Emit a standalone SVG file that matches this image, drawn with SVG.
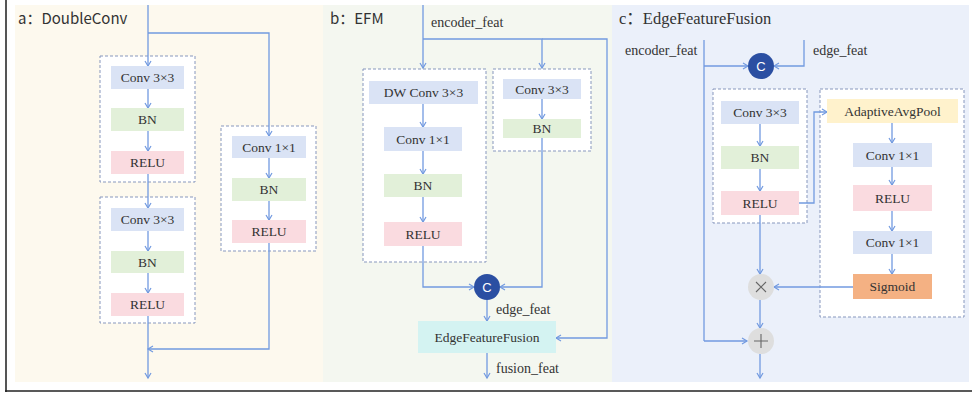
<svg xmlns="http://www.w3.org/2000/svg" width="972" height="396" viewBox="0 0 972 396">
<style>
.lbl{font-family:"Liberation Serif","Times New Roman",serif;font-size:13.5px;fill:#333;text-anchor:middle;dominant-baseline:central}
.tx{font-family:"Liberation Serif","Times New Roman",serif;font-size:14px;fill:#333}
.ttl{font-family:"Noto Sans CJK SC","Noto Sans",sans-serif;font-size:15px;fill:#333}
.ttlc{font-family:"Liberation Serif","Noto Sans CJK SC",serif;font-size:16.5px;fill:#333}
.dash{fill:#fff;stroke:#8797bd;stroke-width:1;stroke-dasharray:3 2}
.conv{fill:#dae3f5}
.bn{fill:#e2f0d9}
.relu{fill:#fadbe0}
.pool{fill:#fff2cc}
.sig{fill:#f4b183}
.eff{fill:#d4f3f2}
.cat{fill:#2b4fa2}
.op{fill:#dedede}
.c{font-family:"Liberation Sans",Arial,sans-serif;font-size:13px;fill:#fff;text-anchor:middle;dominant-baseline:central}
.w{fill:none;stroke:#729ae0;stroke-width:1.3;marker-end:url(#ah)}
.wn{fill:none;stroke:#729ae0;stroke-width:1.3}
.sym{stroke:#666;stroke-width:1.1;fill:none}
</style>
<defs>
<marker id="ah" markerUnits="userSpaceOnUse" markerWidth="8" markerHeight="8" refX="6" refY="4" orient="auto">
<path d="M1,1 L6,4 L1,7" fill="none" stroke="#729ae0" stroke-width="1.2"/>
</marker>
</defs>
<rect width="972" height="396" fill="#fff"/>
<!-- panels -->
<rect x="15" y="5" width="308" height="377" fill="#fdf9ee"/>
<rect x="323" y="5" width="289" height="377" fill="#f4f7f0"/>
<rect x="612" y="5" width="357" height="377" fill="#ebf0fa"/>
<line x1="6" y1="0" x2="6" y2="392" stroke="#555" stroke-width="2"/>
<line x1="5" y1="391" x2="972" y2="391" stroke="#222" stroke-width="1.5"/>
<text class="ttl" x="18" y="24">a：DoubleConv</text>
<text class="ttl" x="330" y="24">b：EFM</text>
<text class="ttlc" x="619" y="24">c：EdgeFeatureFusion</text>
<!-- dashed containers -->
<rect class="dash" x="100" y="56" width="95" height="126"/>
<rect class="dash" x="100" y="197" width="95" height="126"/>
<rect class="dash" x="221" y="126" width="95" height="125"/>
<rect class="dash" x="363" y="69" width="123" height="193"/>
<rect class="dash" x="493" y="69" width="98" height="82"/>
<rect class="dash" x="713" y="89" width="94" height="134"/>
<rect class="dash" x="820" y="89" width="144" height="228"/>
<!-- connectors -->
<g id="connectors">
<path class="w" d="M148,5 V66"/>
<path class="w" d="M148,33 H269 V136"/>
<path class="w" d="M148,89 V108"/>
<path class="w" d="M148,131 V151"/>
<path class="w" d="M148,174 V208"/>
<path class="w" d="M148,231 V251"/>
<path class="w" d="M148,273 V293"/>
<path class="w" d="M148,316 V378"/>
<path class="w" d="M269,158 V178"/>
<path class="w" d="M269,201 V220"/>
<path class="w" d="M269,243 V349 H148"/>
<path class="w" d="M423,5 V68"/>
<path class="w" d="M423,39 H542 V68"/>
<path class="w" d="M542,39 H607 V338 H556"/>
<path class="w" d="M423,104 V127"/>
<path class="w" d="M423,151 V174"/>
<path class="w" d="M423,197 V222"/>
<path class="w" d="M423,246 V287 H474"/>
<path class="w" d="M542,99 V119"/>
<path class="w" d="M542,138 V287 H500"/>
<path class="w" d="M487,300 V321"/>
<path class="w" d="M487,353 V378"/>
<path class="wn" d="M704,40 V341"/>
<path class="w" d="M704,66 H748"/>
<path class="w" d="M804,40 V66 H774"/>
<path class="w" d="M760,124 V146"/>
<path class="w" d="M760,169 V191"/>
<path class="w" d="M799,203 H814 V112 H827"/>
<path class="w" d="M892,123 V143"/>
<path class="w" d="M892,167 V185"/>
<path class="w" d="M892,211 V231"/>
<path class="w" d="M892,254 V274"/>
<path class="w" d="M760,215 V274"/>
<path class="w" d="M853,287 H774"/>
<path class="w" d="M760,300 V328"/>
<path class="w" d="M704,341 H747"/>
<path class="w" d="M760,354 V378"/>
</g>
<text class="tx" x="431" y="27">encoder_feat</text>
<text class="tx" x="496" y="314">edge_feat</text>
<text class="tx" x="496" y="373">fusion_feat</text>
<text class="tx" x="625" y="55">encoder_feat</text>
<text class="tx" x="813" y="55">edge_feat</text>
<!-- panel a nodes -->
<g id="a-conv1"><rect class="conv" x="111" y="66" width="73" height="23"/><text class="lbl" x="147.5" y="77.5">Conv 3×3</text></g>
<g id="a-bn1"><rect class="bn" x="111" y="108" width="73" height="23"/><text class="lbl" x="147.5" y="119.5">BN</text></g>
<g id="a-relu1"><rect class="relu" x="111" y="151" width="73" height="23"/><text class="lbl" x="147.5" y="162.5">RELU</text></g>
<g id="a-conv2"><rect class="conv" x="111" y="208" width="73" height="23"/><text class="lbl" x="147.5" y="219.5">Conv 3×3</text></g>
<g id="a-bn2"><rect class="bn" x="111" y="251" width="73" height="22"/><text class="lbl" x="147.5" y="262">BN</text></g>
<g id="a-relu2"><rect class="relu" x="111" y="293" width="73" height="23"/><text class="lbl" x="147.5" y="304.5">RELU</text></g>
<g id="a-conv3"><rect class="conv" x="232" y="136" width="74" height="22"/><text class="lbl" x="269" y="147">Conv 1×1</text></g>
<g id="a-bn3"><rect class="bn" x="232" y="178" width="74" height="23"/><text class="lbl" x="269" y="189.5">BN</text></g>
<g id="a-relu3"><rect class="relu" x="232" y="220" width="74" height="23"/><text class="lbl" x="269" y="231.5">RELU</text></g>
<!-- panel b nodes -->
<g id="b-dwconv"><rect class="conv" x="369" y="81" width="109" height="23"/><text class="lbl" x="423.5" y="92.5">DW Conv 3×3</text></g>
<g id="b-conv1"><rect class="conv" x="384" y="127" width="78" height="24"/><text class="lbl" x="423" y="139">Conv 1×1</text></g>
<g id="b-bn1"><rect class="bn" x="384" y="174" width="78" height="23"/><text class="lbl" x="423" y="185.5">BN</text></g>
<g id="b-relu"><rect class="relu" x="384" y="222" width="78" height="24"/><text class="lbl" x="423" y="234">RELU</text></g>
<g id="b-conv3"><rect class="conv" x="503" y="79" width="78" height="20"/><text class="lbl" x="542" y="89">Conv 3×3</text></g>
<g id="b-bn2"><rect class="bn" x="503" y="119" width="78" height="19"/><text class="lbl" x="542" y="128.5">BN</text></g>
<g id="b-cat"><circle class="cat" cx="487" cy="287" r="13"/><text class="c" x="487" y="287">C</text></g>
<g id="b-eff"><rect class="eff" x="418" y="321" width="138" height="32"/><text class="lbl" x="487" y="337">EdgeFeatureFusion</text></g>
<!-- panel c nodes -->
<g id="c-cat"><circle class="cat" cx="761" cy="66" r="13"/><text class="c" x="761" y="66">C</text></g>
<g id="c-conv"><rect class="conv" x="721" y="101" width="78" height="23"/><text class="lbl" x="760" y="112.5">Conv 3×3</text></g>
<g id="c-bn"><rect class="bn" x="721" y="146" width="78" height="23"/><text class="lbl" x="760" y="157.5">BN</text></g>
<g id="c-relu"><rect class="relu" x="721" y="191" width="78" height="24"/><text class="lbl" x="760" y="203">RELU</text></g>
<g id="c-pool"><rect class="pool" x="827" y="99" width="131" height="24"/><text class="lbl" x="892.5" y="111">AdaptiveAvgPool</text></g>
<g id="c-conv1"><rect class="conv" x="853" y="143" width="79" height="24"/><text class="lbl" x="892.5" y="155">Conv 1×1</text></g>
<g id="c-relu2"><rect class="relu" x="853" y="185" width="79" height="26"/><text class="lbl" x="892.5" y="198">RELU</text></g>
<g id="c-conv2"><rect class="conv" x="853" y="231" width="79" height="23"/><text class="lbl" x="892.5" y="242.5">Conv 1×1</text></g>
<g id="c-sig"><rect class="sig" x="853" y="274" width="79" height="25"/><text class="lbl" x="892.5" y="286.5">Sigmoid</text></g>
<g id="c-mul"><circle class="op" cx="761" cy="287" r="13"/><path class="sym" d="M756,282 L766,292 M766,282 L756,292"/></g>
<g id="c-add"><circle class="op" cx="761" cy="341" r="13"/><path class="sym" d="M754,341 H768 M761,334 V348"/></g>
</svg>
